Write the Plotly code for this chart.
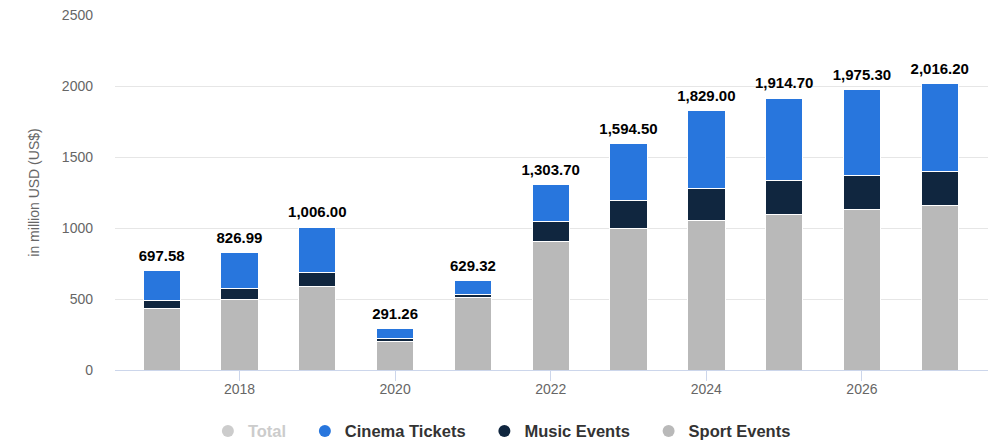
import plotly.graph_objects as go

# Revenue by segment, in million USD
years = [2017, 2018, 2019, 2020, 2021, 2022, 2023, 2024, 2025, 2026, 2027]
total = [697.58, 826.99, 1006.00, 291.26, 629.32, 1303.70, 1594.50, 1829.00, 1914.70, 1975.30, 2016.20]
sport_events = [434, 493, 591, 204, 509, 903, 993, 1051, 1098, 1133, 1159]
music_events = [58, 82, 96, 19, 24, 141, 204, 228, 235, 235, 237]
cinema_tickets = [205.58, 251.99, 319.00, 68.26, 96.32, 259.70, 397.50, 550.00, 581.70, 607.30, 620.20]
total_labels = ["697.58", "826.99", "1,006.00", "291.26", "629.32", "1,303.70",
                "1,594.50", "1,829.00", "1,914.70", "1,975.30", "2,016.20"]
x_ticks = [2018, 2020, 2022, 2024, 2026]
y_ticks = [0, 500, 1000, 1500, 2000, 2500]

FONT = "Liberation Sans, Arial, Helvetica, sans-serif"
C_CINEMA = "#2876dd"
C_MUSIC = "#10263f"
C_SPORT = "#b9b9b9"
C_TOTAL = "#cccccc"
PAD = "\u00a0" * 3  # extra room between legend entries

fig = go.Figure()

# stacked segments, bottom to top
for name, vals, color in [
    ("Sport Events", sport_events, C_SPORT),
    ("Music Events", music_events, C_MUSIC),
    ("Cinema Tickets", cinema_tickets, C_CINEMA),
]:
    fig.add_trace(go.Bar(
        x=years, y=vals, name=name, marker_color=color,
        marker_line_color="white", marker_line_width=1,
        width=0.48, showlegend=False,
    ))

# total value labels above each stack (invisible markers give the offset)
fig.add_trace(go.Scatter(
    x=years, y=total, mode="markers+text", text=total_labels,
    textposition="top center",
    marker=dict(size=8, opacity=0),
    textfont=dict(family=FONT, size=15, color="#000000", weight="bold"),
    showlegend=False, hoverinfo="skip",
))

# legend entries with round markers
legend_items = [
    ("<span style='color:#cccccc'>Total</span>" + PAD, C_TOTAL),
    ("Cinema Tickets" + PAD, C_CINEMA),
    ("Music Events" + PAD, C_MUSIC),
    ("Sport Events", C_SPORT),
]
for name, color in legend_items:
    fig.add_trace(go.Scatter(
        x=[None], y=[None], mode="markers", name=name,
        marker=dict(symbol="circle", size=16, color=color),
        showlegend=True,
    ))

fig.update_layout(
    barmode="stack",
    width=990, height=440,
    margin=dict(l=115, r=2, t=15, b=70, autoexpand=False),
    paper_bgcolor="white", plot_bgcolor="white",
    font=dict(family=FONT, size=14, color="#666666"),
    showlegend=True,
    legend=dict(
        orientation="h", traceorder="normal",
        xref="container", x=0.21, xanchor="left",
        yref="container", y=0.02, yanchor="middle",
        font=dict(family=FONT, size=16.5, color="#333333", weight="bold"),
        itemsizing="constant", bgcolor="rgba(0,0,0,0)",
    ),
    xaxis=dict(
        range=[2016.4, 2027.62],
        tickmode="array", tickvals=x_ticks, ticktext=[str(v) for v in x_ticks],
        showgrid=False, zeroline=False,
        showline=True, linecolor="#ccd6eb", linewidth=1,
        ticks="outside", ticklen=10, tickcolor="#ccd6eb",
        ticklabelstandoff=-4,
        tickfont=dict(family=FONT, size=14, color="#666666"),
    ),
    yaxis=dict(
        range=[0, 2500],
        tickmode="array", tickvals=y_ticks, ticktext=[str(v) for v in y_ticks],
        showgrid=True, gridcolor="#e6e6e6", gridwidth=1,
        zeroline=False, showline=False,
        ticklabelstandoff=21,
        tickfont=dict(family=FONT, size=14, color="#666666"),
        title=dict(text="in million USD (US$)", standoff=18,
                   font=dict(family=FONT, size=14, color="#666666")),
    ),
)

fig.write_html("out.html")
